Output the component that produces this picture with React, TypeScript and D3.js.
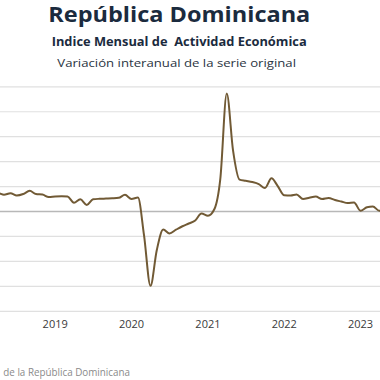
import React from "react";
import * as d3 from "d3";

const startYear = 2018;
const values: number[] = [
  // 2018
  5.5, 6.2, 6.9, 7.4, 6.7, 7.3, 6.4, 7.0, 8.3, 7.0, 6.8, 5.8,
  // 2019
  6.0, 6.1, 6.0, 3.5, 4.9, 2.6, 4.9, 5.1, 5.2, 5.3, 5.5, 6.7,
  // 2020
  5.0, 5.6, -9.5, -29.8, -15.5, -7.2, -8.8, -7.3, -5.9, -4.8, -3.6, -0.8,
  // 2021
  -1.7, 1.0, 13.0, 47.3, 24.5, 12.8, 12.3, 11.8, 11.0, 9.4, 13.3, 10.2,
  // 2022
  6.5, 6.4, 6.8, 5.0, 5.5, 6.0, 5.0, 5.4, 4.6, 4.0, 3.4, 3.6,
  // 2023
  0.3, 1.7, 2.0, 0.3, 1.0,
];
const yTicks = [-40, -30, -20, -10, 0, 10, 20, 30, 40, 50];
const xTickYears = [2019, 2020, 2021, 2022, 2023];
const title = "República Dominicana";
const subtitle = "Indice Mensual de  Actividad Económica";
const subtitle2 = "Variación interanual de la serie original";
const source = "de la República Dominicana";

const W = 380;
const H = 380;

export default function App() {
  const data = values.map((v, i) => ({
    date: new Date(startYear, i, 1),
    v,
  }));
  const x = d3
    .scaleTime()
    .domain([new Date(2019, 0, 1), new Date(2023, 0, 1)])
    .range([55.2, 360.5]);
  const y = d3.scaleLinear().domain([-40, 50]).range([311.3, 86.8]);
  const line = d3
    .line<{ date: Date; v: number }>()
    .x((d) => x(d.date))
    .y((d) => y(d.v))
    .curve(d3.curveMonotoneX);
  const font = "'Open Sans', 'DejaVu Sans', sans-serif";
  return (
    <svg
      width={W}
      height={H}
      style={{ position: "absolute", left: 0, top: 0, background: "#fff" }}
    >
      <text
        x={48.3}
        y={21.7}
        fontFamily={font}
        fontWeight="bold"
        fontSize={20.5}
        fill="#1b2b3e"
        textLength={262}
        lengthAdjust="spacingAndGlyphs"
      >
        {title}
      </text>
      <text
        x={51.7}
        y={45.5}
        fontFamily={font}
        fontWeight="bold"
        fontSize={12}
        fill="#1b2b3e"
        textLength={255}
        lengthAdjust="spacingAndGlyphs"
        style={{ whiteSpace: "pre" }}
      >
        {subtitle}
      </text>
      <text
        x={57.3}
        y={66.8}
        fontFamily={font}
        fontSize={11}
        fill="#2a3442"
        textLength={238.7}
        lengthAdjust="spacingAndGlyphs"
      >
        {subtitle2}
      </text>
      {yTicks.map((t) => (
        <line
          key={t}
          x1={0}
          x2={W}
          y1={y(t)}
          y2={y(t)}
          stroke={t === 0 ? "#b8b8b8" : "#e0e0e0"}
          strokeWidth={t === 0 ? 1.5 : 1.2}
        />
      ))}
      <path
        d={line(data) || ""}
        fill="none"
        stroke="#715a35"
        strokeWidth={2}
        strokeLinejoin="round"
      />
      {xTickYears.map((yr) => (
        <text
          key={yr}
          x={x(new Date(yr, 0, 1))}
          y={328}
          textAnchor="middle"
          fontFamily={font}
          fontSize={11}
          fill="#3a3a3a"
        >
          {yr}
        </text>
      ))}
      <text
        x={3.3}
        y={375.7}
        fontFamily={font}
        fontSize={10}
        fill="#8a8a8a"
        textLength={126.7}
        lengthAdjust="spacingAndGlyphs"
      >
        {source}
      </text>
    </svg>
  );
}
